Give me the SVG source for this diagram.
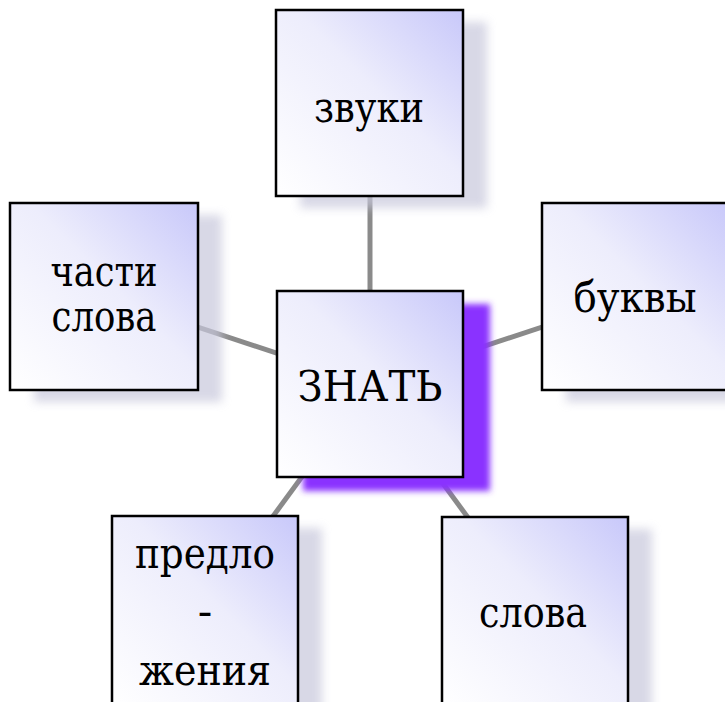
<svg xmlns="http://www.w3.org/2000/svg" width="725" height="702" viewBox="0 0 725 702">
<style>
.box{fill:url(#g);stroke:#000;stroke-width:2.5}
.sh{fill:#c8c8dc;opacity:0.7;filter:url(#blur)}
.t{font-family:'DejaVu Serif','Liberation Serif',serif;font-size:43px;fill:#000;text-anchor:middle}
.c{stroke:#8a8a8a;stroke-width:5;fill:none}
</style>
<defs>
<linearGradient id="g" x1="0" y1="1" x2="1" y2="0">
<stop offset="0" stop-color="#ffffff"/>
<stop offset="0.55" stop-color="#ededfc"/>
<stop offset="1" stop-color="#c8c8fa"/>
</linearGradient>
<filter id="blur" x="-20%" y="-20%" width="140%" height="140%"><feGaussianBlur stdDeviation="5"/></filter>
<filter id="blur2" x="-20%" y="-20%" width="140%" height="140%"><feGaussianBlur stdDeviation="3"/></filter>
</defs>
<rect width="725" height="702" fill="#fff"/>
<g id="connectors">
<line class="c" x1="370" y1="196" x2="370" y2="291"/>
<line class="c" x1="104" y1="296" x2="370" y2="384"/>
<line class="c" x1="636" y1="296" x2="370" y2="384"/>
<line class="c" x1="370" y1="384" x2="205" y2="609"/>
<line class="c" x1="370" y1="384" x2="535" y2="609"/>
</g>
<g id="n-zvuki">
<rect class="sh" x="300" y="22" width="187" height="186"/>
<rect class="box" x="276" y="10" width="187" height="186"/>
<text class="t" x="369" y="122" textLength="110" lengthAdjust="spacingAndGlyphs">звуки</text>
</g>
<g id="n-chasti">
<rect class="sh" x="34" y="215" width="188" height="187"/>
<rect class="box" x="10" y="203" width="188" height="187"/>
<text class="t" x="104" y="286" textLength="107" lengthAdjust="spacingAndGlyphs">части</text>
<text class="t" x="104" y="331" textLength="105" lengthAdjust="spacingAndGlyphs">слова</text>
</g>
<g id="n-bukvy">
<rect class="sh" x="566" y="215" width="188" height="187"/>
<rect class="box" x="542" y="203" width="188" height="187"/>
<text class="t" x="635" y="312" textLength="123" lengthAdjust="spacingAndGlyphs">буквы</text>
</g>
<g id="n-predl">
<rect class="sh" x="136" y="528" width="186" height="187"/>
<rect class="box" x="112" y="516" width="186" height="190"/>
<text class="t" x="205" y="568" textLength="140" lengthAdjust="spacingAndGlyphs">предло</text>
<text class="t" x="205" y="626">-</text>
<text class="t" x="205" y="685" textLength="132" lengthAdjust="spacingAndGlyphs">жения</text>
</g>
<g id="n-slova">
<rect class="sh" x="466" y="529" width="186" height="187"/>
<rect class="box" x="442" y="517" width="186" height="190"/>
<text class="t" x="533" y="627" textLength="108" lengthAdjust="spacingAndGlyphs">слова</text>
</g>
<g id="n-znat">
<rect x="303" y="304" width="187" height="187" fill="#8a33ff" filter="url(#blur2)"/>
<rect class="box" x="277" y="291" width="186" height="186"/>
<text class="t" x="370" y="401" textLength="145" lengthAdjust="spacingAndGlyphs">ЗНАТЬ</text>
</g>
</svg>
